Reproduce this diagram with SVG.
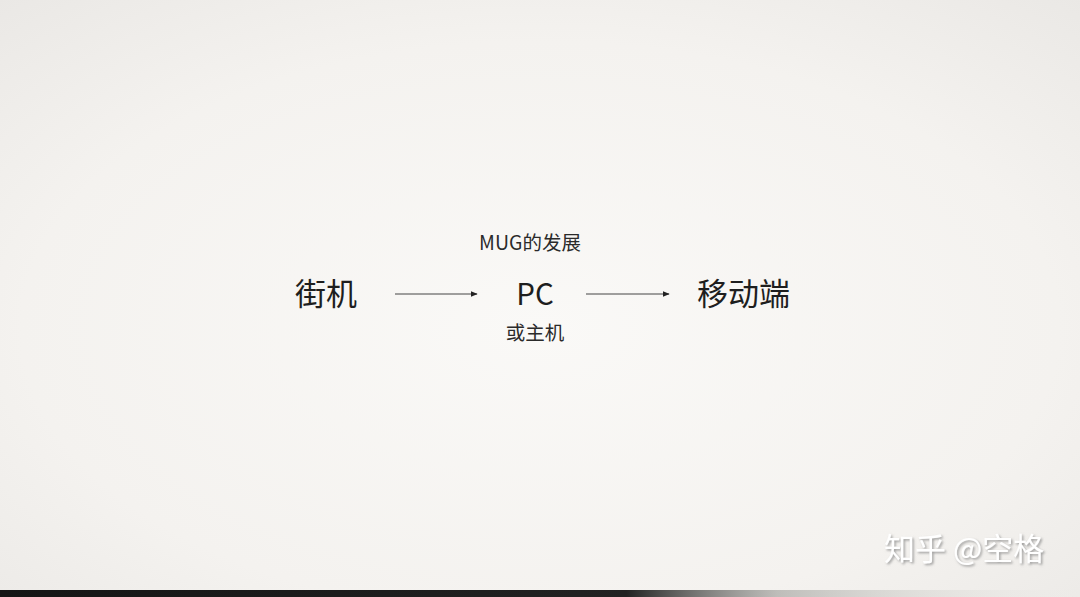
<svg xmlns="http://www.w3.org/2000/svg" width="1080" height="597" viewBox="0 0 1080 597">
<defs>
<radialGradient id="bg" cx="0.5" cy="0.55" r="0.8">
<stop offset="0" stop-color="#faf9f7"/>
<stop offset="0.6" stop-color="#f4f2ef"/>
<stop offset="1" stop-color="#e8e6e3"/>
</radialGradient>
<linearGradient id="band" x1="0" y1="0" x2="1" y2="0">
<stop offset="0" stop-color="#151515"/>
<stop offset="0.58" stop-color="#222"/>
<stop offset="0.72" stop-color="#9a9a96" stop-opacity="0.6"/>
<stop offset="1" stop-color="#e6e6e0" stop-opacity="0"/>
</linearGradient>
<marker id="ah" viewBox="0 0 10 10" refX="9" refY="5" markerWidth="7" markerHeight="7" markerUnits="userSpaceOnUse" orient="auto">
<path d="M0,1 L10,5 L0,9 z" fill="#222"/>
</marker>
<filter id="sh" x="-10%" y="-20%" width="130%" height="150%">
<feDropShadow dx="1.5" dy="1.5" stdDeviation="0.8" flood-color="#888" flood-opacity="0.8"/>
</filter>
</defs>
<style>
.t{font-family:"Noto Sans CJK SC","Noto Sans",sans-serif;fill:#1e1e1e;}
.big{font-size:31px;}
.sm{font-size:19.5px;fill:#2a2a2a;}
.ln{stroke:#444;stroke-width:1;fill:none;}
.wm{font-family:"Noto Sans CJK SC","Noto Sans",sans-serif;font-size:31px;fill:#ffffff;}
</style>
<rect width="1080" height="597" fill="url(#bg)"/>
<rect x="0" y="590" width="1080" height="7" fill="url(#band)"/>
<g id="node-arcade"><text class="t big" x="295" y="305">街机</text></g>
<g id="node-pc">
<text class="t sm" x="530" y="250" text-anchor="middle">MUG的发展</text>
<text class="t" style="font-size:29.5px" x="535" y="305" text-anchor="middle">PC</text>
<text class="t sm" x="535" y="340" text-anchor="middle">或主机</text>
</g>
<g id="node-mobile"><text class="t big" x="697" y="305">移动端</text></g>
<g id="connectors">
<line class="ln" x1="395" y1="294" x2="477" y2="294" marker-end="url(#ah)"/>
<line class="ln" x1="586" y1="294" x2="669" y2="294" marker-end="url(#ah)"/>
</g>
<g id="watermark"><text class="wm" x="884" y="560" filter="url(#sh)">知乎 @空格</text></g>
</svg>
